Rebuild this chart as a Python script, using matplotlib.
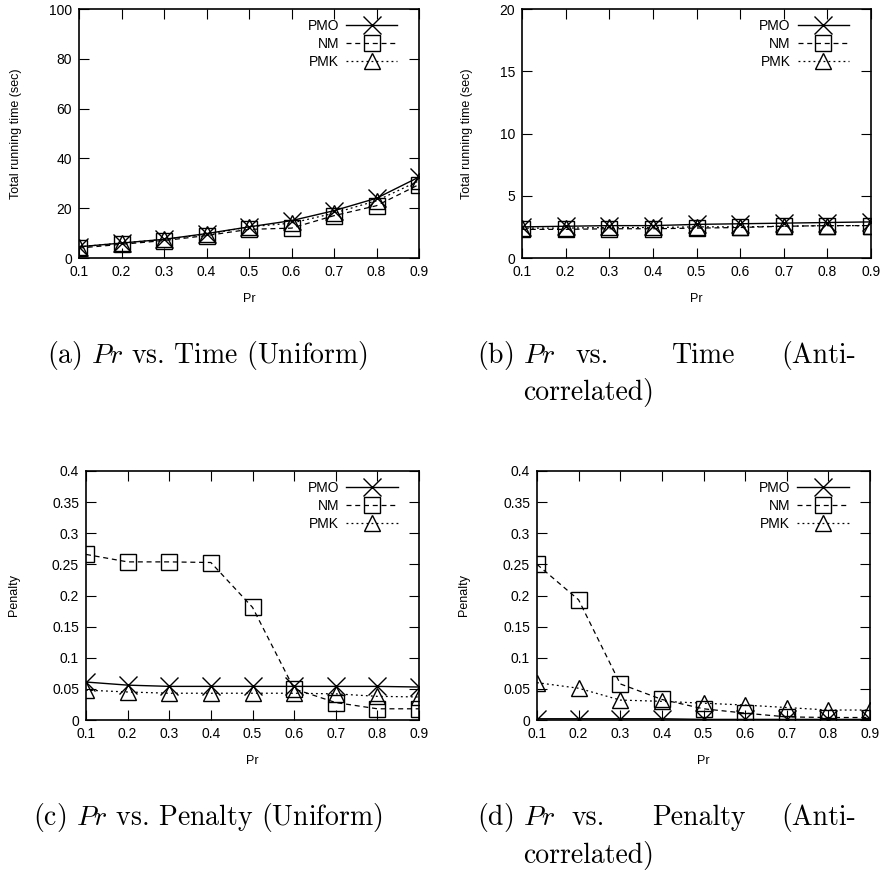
import matplotlib
matplotlib.use("Agg")
import matplotlib.pyplot as plt

plt.rcParams['font.family'] = ['Liberation Sans', 'DejaVu Sans']
plt.rcParams['mathtext.fontset'] = 'cm'

pr = [0.1, 0.2, 0.3, 0.4, 0.5, 0.6, 0.7, 0.8, 0.9]
pr_ticks = ['0.1', '0.2', '0.3', '0.4', '0.5', '0.6', '0.7', '0.8', '0.9']

# (a) running time, uniform
time_uni_pmo = [4.5, 6.0, 7.5, 9.8, 12.5, 15.0, 19.0, 24.0, 32.5]
time_uni_nm = [4.0, 5.5, 7.0, 9.0, 11.5, 12.0, 17.0, 21.0, 29.5]
time_uni_pmk = [4.5, 6.0, 7.5, 9.5, 12.5, 14.0, 18.0, 23.0, 31.0]

# (b) running time, anti-correlated
time_anti_pmo = [2.5, 2.55, 2.6, 2.6, 2.7, 2.75, 2.8, 2.85, 2.9]
time_anti_nm = [2.3, 2.3, 2.35, 2.35, 2.4, 2.45, 2.55, 2.6, 2.6]
time_anti_pmk = [2.4, 2.4, 2.45, 2.45, 2.5, 2.5, 2.55, 2.6, 2.6]

# (c) penalty, uniform
pen_uni_pmo = [0.061, 0.056, 0.054, 0.054, 0.054, 0.054, 0.054, 0.054, 0.053]
pen_uni_nm = [0.266, 0.254, 0.254, 0.253, 0.181, 0.050, 0.028, 0.018, 0.018]
pen_uni_pmk = [0.048, 0.045, 0.043, 0.043, 0.043, 0.043, 0.042, 0.038, 0.037]

# (d) penalty, anti-correlated
pen_anti_pmo = [0.002, 0.002, 0.002, 0.002, 0.001, 0.001, 0.001, 0.001, 0.001]
pen_anti_nm = [0.250, 0.193, 0.058, 0.033, 0.018, 0.011, 0.005, 0.004, 0.004]
pen_anti_pmk = [0.060, 0.051, 0.032, 0.030, 0.027, 0.024, 0.020, 0.016, 0.016]

W, H = 883, 873
fig = plt.figure(figsize=(W / 100, H / 100), dpi=100)


def px_axes(left, top, right, bottom):
    return fig.add_axes([left / W, 1 - bottom / H, (right - left) / W, (bottom - top) / H])


def panel(ax, pmo, nm, pmk, ymax, yticks, yticklabels, ylabel, ylab_x):
    ax.plot(pr, pmo, color='black', lw=1.0, ls='-', marker='x', ms=13, mew=1.0, label='PMO')
    ax.plot(pr, nm, color='black', lw=0.9, ls=(0, (4, 3)), marker='s', ms=11, mew=1.0,
            mfc='none', label='NM')
    ax.plot(pr, pmk, color='black', lw=0.9, ls=(0, (1.5, 2.5)), marker='^', ms=11, mew=1.0,
            mfc='none', label='PMK')
    ax.set_xlim(0.1, 0.9)
    ax.set_ylim(0, ymax)
    ax.set_xticks(pr)
    ax.set_xticklabels(pr_ticks)
    ax.set_yticks(yticks)
    ax.set_yticklabels(yticklabels)
    ax.tick_params(direction='in', length=7, width=0.8, top=True, right=True,
                   labelsize=10, pad=5)
    for s in ax.spines.values():
        s.set_linewidth(1.2)
    ax.set_xlabel('Pr', fontsize=9, labelpad=10)
    ax.set_ylabel(ylabel, fontsize=9)
    ax.yaxis.set_label_coords(ylab_x, 0.5)
    for lbl in ax.get_xticklabels() + ax.get_yticklabels():
        lbl.set_clip_on(False)
    ax.legend(loc='upper right', bbox_to_anchor=(1 - 12 / 340, 1.0), frameon=False,
              markerfirst=False, fontsize=10, handlelength=3.7, handletextpad=0.5,
              labelspacing=0.3, borderaxespad=0.3)


ax_a = px_axes(79, 9, 419, 258)
panel(ax_a, time_uni_pmo, time_uni_nm, time_uni_pmk, 100,
      [0, 20, 40, 60, 80, 100], ['0', '20', '40', '60', '80', '100'],
      'Total running time (sec)', -0.168)

ax_b = px_axes(522, 9, 871, 258)
panel(ax_b, time_anti_pmo, time_anti_nm, time_anti_pmk, 20,
      [0, 5, 10, 15, 20], ['0', '5', '10', '15', '20'],
      'Total running time (sec)', -0.14)

pen_ticks = [0, 0.05, 0.1, 0.15, 0.2, 0.25, 0.3, 0.35, 0.4]
pen_labels = ['0', '0.05', '0.1', '0.15', '0.2', '0.25', '0.3', '0.35', '0.4']

ax_c = px_axes(86, 471, 419, 720)
panel(ax_c, pen_uni_pmo, pen_uni_nm, pen_uni_pmk, 0.4, pen_ticks, pen_labels,
      'Penalty', -0.198)

ax_d = px_axes(537, 471, 870, 720)
panel(ax_d, pen_anti_pmo, pen_anti_nm, pen_anti_pmk, 0.4, pen_ticks, pen_labels,
      'Penalty', -0.201)

# captions (LaTeX-like, justified right column)
cap = dict(fontsize=20, fontfamily='cmr10', va='center')
renderer = fig.canvas.get_renderer()


def ftext(x, y, s, ha='left'):
    return fig.text(x / W, 1 - y / H, s, ha=ha, **cap)


def width_px(t):
    return t.get_window_extent(renderer).width


def justified(y, label, words, left=477, right=856, weights=(1.0, 3.0, 2.2)):
    first = ftext(left, y, label)
    x = left + width_px(first)
    mids = [ftext(0, y, w) for w in words[:-1]]
    last = ftext(right, y, words[-1], ha='right')
    total = right - width_px(last) - x - sum(width_px(m) for m in mids)
    unit = total / sum(weights)
    for m, g in zip(mids, weights):
        x += g * unit
        m.set_x(x / W)
        x += width_px(m)


ta = ftext(47, 356, r'(a) $Pr$ vs. Time (Uniform)')
center = 47 + width_px(ta) / 2
ftext(center, 818, r'(c) $Pr$ vs. Penalty (Uniform)', ha='center')

justified(356, r'(b) $Pr$', ['vs.', 'Time', '(Anti-'])
ftext(523, 393, 'correlated)')
justified(818, r'(d) $Pr$', ['vs.', 'Penalty', '(Anti-'])
ftext(523, 855, 'correlated)')

fig.savefig('out.png', dpi=100)
